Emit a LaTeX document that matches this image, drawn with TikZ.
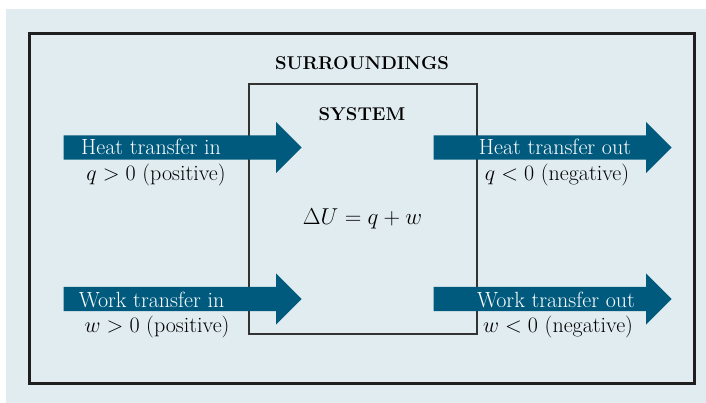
\RequirePackage{fix-cm}
\documentclass[tikz,border=0pt]{standalone}
\usepackage{amsmath}
\usepackage{xcolor}
\usepackage{tikz}
\usetikzlibrary{shapes.arrows,positioning,calc}
\definecolor{bgblue}{RGB}{225,236,241}
\definecolor{flowblue}{RGB}{0,90,126}
\tikzset{
  frame/.style={draw=black!88, line width=2.6pt, minimum width=665pt,
                minimum height=350pt, inner sep=0pt},
  sysbox/.style={draw=black!80, line width=1.2pt, minimum width=228pt,
                 minimum height=250pt, inner sep=0pt},
  flow/.style={single arrow, fill=flowblue, draw=none, inner xsep=0pt,
               inner ysep=12pt, minimum height=238pt,
               single arrow head extend=13.5pt, anchor=tip},
  title/.style={font=\bfseries\fontsize{18.5}{22}\selectfont, anchor=base,
                inner sep=0pt},
  flowtxt/.style={text=white, font=\fontsize{22}{26}\selectfont, anchor=base,
                  inner sep=0pt},
  signtxt/.style={font=\fontsize{22}{26}\selectfont, anchor=base, inner sep=0pt}
}

\begin{document}
\begin{tikzpicture}[x=1pt, y=-1pt]
  \useasboundingbox (0,0) rectangle (706,403);
  \fill[bgblue] (6,9.5) rectangle (706,403);
  \node[frame] (surr) at (362,208.5) {};
  \node[sysbox] (sys) at (363,209) {};
  \node[title] (surrlbl) at (362,70) {SURROUNDINGS};
  \node[title] (syslbl) at (362,121) {SYSTEM};
  \node[signtxt, font=\fontsize{23}{26}\selectfont] (eq) at (362.5,225)
    {$\Delta U = q + w$};
  % transfer arrows
  \node[flow] (heatin) at (302,147.5) {};
  \node[flow] (heatout) at (672,147.5) {};
  \node[flow] (workin) at (302,299) {};
  \node[flow] (workout) at (672,299) {};
  \node[flowtxt] (heatinlbl) at (151,154.5) {Heat transfer in};
  \node[flowtxt] (heatoutlbl) at (555,154.5) {Heat transfer out};
  \node[flowtxt] (workinlbl) at (151.5,307) {Work transfer in};
  \node[flowtxt] (workoutlbl) at (556,307) {Work transfer out};
  \node[signtxt] (heatinsgn) at (156,180.5) {$q > 0$ (positive)};
  \node[signtxt] (heatoutsgn) at (557,180.5) {$q < 0$ (negative)};
  \node[signtxt] (workinsgn) at (157,332.5) {$w > 0$ (positive)};
  \node[signtxt] (workoutsgn) at (558,332.5) {$w < 0$ (negative)};
\end{tikzpicture}
\end{document}
